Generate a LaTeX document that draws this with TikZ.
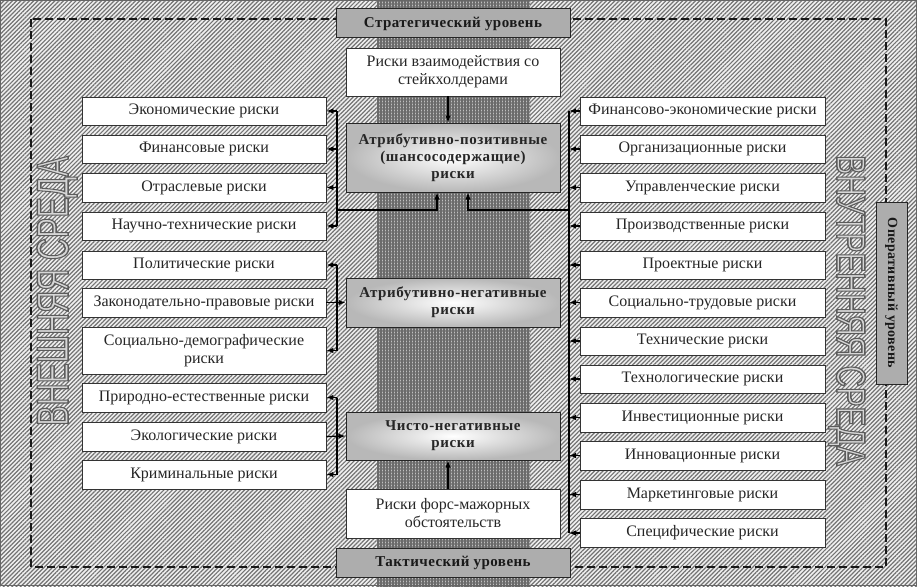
\documentclass[tikz,border=0pt]{standalone}
\usepackage{fontspec}
\setmainfont{Liberation Serif}
\newfontfamily\outlinefont{Liberation Sans}
\usetikzlibrary{patterns.meta,arrows.meta,calc}
\newcommand\hollowtext[1]{\special{pdf:code q 2 Tr 1.5 w 0.36 G 0.84 g}#1\special{pdf:code Q}}
\tikzset{
 box/.style={draw=black!80, line width=0.7pt, fill=white, align=center, inner sep=0pt, text=black!85, font=\fontsize{16}{18}\selectfont},
 lbox/.style={box, minimum width=244pt},
 rbox/.style={box, minimum width=245pt},
 cbox/.style={box, minimum width=214pt},
 gbox/.style={cbox, draw=black!85, line width=1pt, inner color=white, outer color=black!28, font=\bfseries\fontsize{15}{17}\selectfont\addfontfeatures{LetterSpace=4}},
 lvl/.style={draw=black!85, line width=1pt, fill=black!32, text=black!90, font=\bfseries\fontsize{15}{17}\selectfont\addfontfeatures{LetterSpace=3}, inner sep=0pt},
 arr/.style={-{Latex[length=7pt,width=5.5pt]}, line width=1.2pt},
 bus/.style={line width=1.2pt},
 bigtext/.style={inner sep=0pt, text=black!60},
}
\begin{document}
\begin{tikzpicture}[x=1pt,y=-1pt]
\useasboundingbox (0,0) rectangle (917,586);
% background
\fill[black!6] (0,0) rectangle (917,586);
\fill[pattern={Lines[angle=45,distance=3pt,line width=1.2pt]}, pattern color=black!55] (0,0) rectangle (917,586);
\fill[black!25] (377,0) rectangle (530,586);
\fill[pattern={Hatch[angle=0,distance=3pt,line width=1.3pt]}, pattern color=black!58] (377,0) rectangle (530,586);
\draw[black!60, line width=1pt] (0.5,0.5) rectangle (916.5,585.5);
% dashed frame
\draw[line width=1.5pt, dash pattern=on 8pt off 4pt, black!90] (31,19) rectangle (886,567);
% level boxes
\node[lvl, minimum width=234pt, minimum height=29pt] (st) at (453,23.5) {Стратегический уровень};
\node[lvl, minimum width=234pt, minimum height=29pt] (tk) at (453,562.5) {Тактический уровень};
\node[lvl, minimum width=182pt, minimum height=31pt, rotate=-90, font=\bfseries\fontsize{14}{16}\selectfont\addfontfeatures{LetterSpace=3}] (op) at (891.5,293) {Оперативный уровень};
% big hollow texts
\node[bigtext, rotate=90] (ext) at (57,291) {\outlinefont\fontsize{45}{45}\selectfont\hollowtext{\scalebox{0.68}[1]{ВНЕШНЯЯ СРЕДА}}};
\node[bigtext, rotate=-90] (int) at (847,310.5) {\outlinefont\fontsize{41}{41}\selectfont\hollowtext{\scalebox{0.72}[1]{ВНУТРЕННЯЯ СРЕДА}}};
% left boxes
\node[lbox, minimum height=28pt] (l1) at (204,111) {Экономические риски};
\node[lbox, minimum height=28pt] (l2) at (204,149) {Финансовые риски};
\node[lbox, minimum height=29pt] (l3) at (204,187.5) {Отраслевые риски};
\node[lbox, minimum height=28pt] (l4) at (204,226) {Научно-технические риски};
\node[lbox, minimum height=28pt] (l5) at (204,265) {Политические риски};
\node[lbox, minimum height=29pt] (l6) at (204,302.5) {Законодательно-правовые риски};
\node[lbox, minimum height=47pt] (l7) at (204,350.5) {Социально-демографические\\риски};
\node[lbox, minimum height=29pt] (l8) at (204,397.5) {Природно-естественные риски};
\node[lbox, minimum height=29pt] (l9) at (204,436.5) {Экологические риски};
\node[lbox, minimum height=29pt] (l10) at (204,474.5) {Криминальные риски};
% right boxes
\node[rbox, minimum height=28pt] (r1) at (702.5,111) {Финансово-экономические риски};
\node[rbox, minimum height=28pt] (r2) at (702.5,149) {Организационные риски};
\node[rbox, minimum height=29pt] (r3) at (702.5,187.5) {Управленческие риски};
\node[rbox, minimum height=28pt] (r4) at (702.5,226) {Производственные риски};
\node[rbox, minimum height=28pt] (r5) at (702.5,265) {Проектные риски};
\node[rbox, minimum height=29pt] (r6) at (702.5,302.5) {Социально-трудовые риски};
\node[rbox, minimum height=28pt] (r7) at (702.5,341) {Технические риски};
\node[rbox, minimum height=28pt] (r8) at (702.5,379) {Технологические риски};
\node[rbox, minimum height=29pt] (r9) at (702.5,417.5) {Инвестиционные риски};
\node[rbox, minimum height=29pt] (r10) at (702.5,455.5) {Инновационные риски};
\node[rbox, minimum height=29pt] (r11) at (702.5,494.5) {Маркетинговые риски};
\node[rbox, minimum height=29pt] (r12) at (702.5,533) {Специфические риски};
% centre boxes
\node[cbox, minimum height=48pt] (sh) at (453,72) {Риски взаимодействия со\\стейкхолдерами};
\node[gbox, minimum height=69pt] (ap) at (453,157.5) {Атрибутивно-позитивные\\(шансосодержащие)\\риски};
\node[gbox, minimum height=49pt] (an) at (453,302.5) {Атрибутивно-негативные\\риски};
\node[gbox, minimum height=48pt] (cn) at (453,436) {Чисто-негативные\\риски};
\node[cbox, minimum height=49pt] (fm) at (453,513.5) {Риски форс-мажорных\\обстоятельств};
% connectors
\coordinate (bl) at (337,0);
\coordinate (br) at (569,0);
\coordinate (jl) at (337,210);
\coordinate (jr) at (569,210);
\draw[bus] (bl|-l1.east) -- (bl|-l4.east);
\draw[bus] (bl|-l5.east) -- (bl|-l7.east);
\draw[bus] (bl|-l8.east) -- (bl|-l10.east);
\foreach \n in {l1,l2,l3,l4,l5,l7,l8,l10} \draw[arr] (bl|-\n.east) -- (\n.east);
\draw[arr] (l6.east) -- (an.west);
\draw[arr] (l9.east) -- (cn.west);
\draw[arr] (jl) -| ([xshift=-16pt]ap.south);
\draw[arr] (jr) -| ([xshift=15pt]ap.south);
\draw[bus] (br|-r1.west) -- (br|-r12.west);
\foreach \i in {1,...,12} \draw[arr] (r\i.west) -- (br|-r\i.west);
\draw[arr] ([xshift=-5pt]sh.south) -- ([xshift=-5pt]ap.north);
\draw[arr] ([xshift=-5pt]fm.north) -- ([xshift=-5pt]cn.south);
\end{tikzpicture}
\end{document}
